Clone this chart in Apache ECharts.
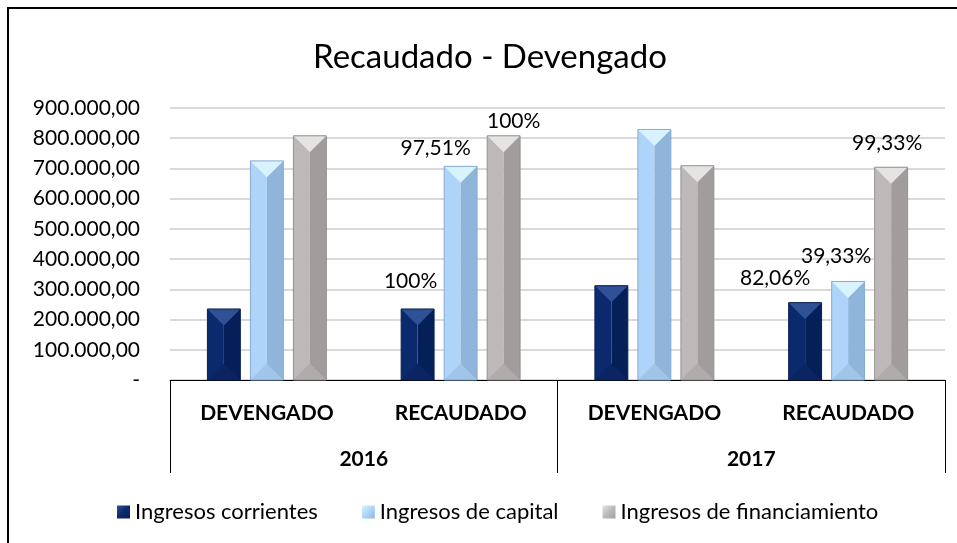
<!DOCTYPE html>
<html>
<head>
<meta charset="utf-8">
<script src="https://cdn.jsdelivr.net/npm/echarts@6/dist/echarts.min.js"></script>
<style>
  html, body { margin: 0; padding: 0; background: #fff; }
  #chart { width: 957px; height: 543px; }
</style>
</head>
<body>
<div id="chart"></div>
<script>
// ---- data ----
const titleText = 'Recaudado - Devengado';
const categories = ['DEVENGADO', 'RECAUDADO', 'DEVENGADO', 'RECAUDADO'];
const years = ['2016', '2017'];
const seriesNames = ['Ingresos corrientes', 'Ingresos de capital', 'Ingresos de financiamiento'];
const corrientes = [235000, 235000, 312000, 256000];
const capital = [725000, 707000, 829000, 326000];
const financiamiento = [808000, 808000, 709000, 704000];
const labelsCorrientes = ['', '100%', '', '82,06%'];
const labelsCapital = ['', '97,51%', '', '39,33%'];
const labelsFinanciamiento = ['', '100%', '', '99,33%'];
const yTicks = { min: 0, max: 900000, interval: 100000 };

// ---- styling (label nudges, colours) ----
const labelNudge = [
  [null, [-7, -28], null, [-30, -24]],
  [null, [-25, -18], null, [-12, -25]],
  [null, [10, -15], null, [-4, -24]]
];
const palettes = [
  { L: '#0b2a6d', R: '#051f59', T: '#2f5196', B: '#0a2562', S: '#0a1f55', M: '#0a2466' },
  { L: '#aed5f9', R: '#90b5db', T: '#d8f2fe', B: '#a0c5e8', S: '#86abd0', M: '#9cc3ea' },
  { L: '#bdb9b9', R: '#a19d9d', T: '#e6e3e3', B: '#b0acac', S: '#949090', M: '#b0acac' }
];
const FONT = 'Lato, "Noto Sans", sans-serif';

function fmtNum(v) {
  if (v === 0) return '-';
  const s = Math.round(v).toString().replace(/\B(?=(\d{3})+(?!\d))/g, '.');
  return s + ',00';
}

function makeRender(si, labels) {
  const p = palettes[si];
  return function (params, api) {
    const cat = api.value(0), val = api.value(1);
    const band = api.size([1, 0])[0];
    const bw = band * 0.17;
    const gap = band * 0.052;
    const top = api.coord([cat, val]);
    const base = api.coord([cat, 0]);
    const cx = top[0] + (si - 1) * (bw + gap);
    const x0 = cx - bw / 2, x1 = cx + bw / 2, yt = top[1], yb = base[1];
    const d = Math.min(bw / 2, (yb - yt) / 2);
    const children = [
      { type: 'polygon', shape: { points: [[x0, yt], [cx, yt], [cx, yb], [x0, yb]] }, style: { fill: p.L } },
      { type: 'polygon', shape: { points: [[cx, yt], [x1, yt], [x1, yb], [cx, yb]] }, style: { fill: p.R } },
      { type: 'polygon', shape: { points: [[x0, yb], [x1, yb], [cx, yb - d]] }, style: { fill: p.B } },
      { type: 'polygon', shape: { points: [[x0, yt], [x1, yt], [cx, yt + d]] }, style: { fill: p.T } },
      { type: 'rect', shape: { x: x0, y: yt, width: bw, height: yb - yt }, style: { fill: 'none', stroke: p.S, lineWidth: 1 } }
    ];
    const lab = labels[params.dataIndex];
    const nudge = labelNudge[si][params.dataIndex];
    if (lab && nudge) {
      children.push({
        type: 'text',
        style: {
          text: lab, x: cx + nudge[0], y: yt + nudge[1],
          align: 'center', verticalAlign: 'middle',
          font: '21px ' + FONT, fill: '#000'
        }
      });
    }
    return { type: 'group', children: children };
  };
}

const valueLists = [corrientes, capital, financiamiento];
const labelLists = [labelsCorrientes, labelsCapital, labelsFinanciamiento];

const series = seriesNames.map(function (name, si) {
  return {
    name: name,
    type: 'custom',
    xAxisIndex: 0,
    yAxisIndex: 0,
    encode: { x: 0, y: 1 },
    itemStyle: {
      color: new echarts.graphic.LinearGradient(0, 0, 1, 1, [
        { offset: 0, color: palettes[si].T },
        { offset: 0.5, color: palettes[si].L },
        { offset: 1, color: palettes[si].R }
      ])
    },
    renderItem: makeRender(si, labelLists[si]),
    data: valueLists[si].map(function (v, i) { return [i, v]; })
  };
});

const chart = echarts.init(document.getElementById('chart'), null, { renderer: 'canvas' });
chart.setOption({
  backgroundColor: '#ffffff',
  animation: false,
  textStyle: { fontFamily: FONT },
  title: {
    text: titleText,
    left: 485,
    textAlign: 'center',
    top: 36,
    textStyle: { fontFamily: FONT, fontSize: 33, fontWeight: 'normal', color: '#000' }
  },
  legend: {
    left: 112,
    top: 496,
    icon: 'rect',
    itemWidth: 13,
    itemHeight: 13,
    itemGap: 44,
    textStyle: { fontFamily: FONT, fontSize: 22, color: '#000' },
    data: seriesNames
  },
  grid: { left: 170, right: 12, top: 108, bottom: 163, containLabel: false },
  xAxis: [
    {
      type: 'category',
      data: categories,
      position: 'bottom',
      axisLine: { show: true, lineStyle: { color: '#000', width: 1 } },
      axisTick: { show: false },
      axisLabel: { interval: 0, margin: 23, fontFamily: FONT, fontSize: 21, fontWeight: 'bold', color: '#000' },
      splitLine: { show: false }
    },
    {
      type: 'category',
      data: years,
      position: 'bottom',
      boundaryGap: true,
      axisLine: { show: false },
      axisTick: { show: true, interval: 0, length: 93, lineStyle: { color: '#000', width: 1 } },
      axisLabel: { interval: 0, margin: 69, fontFamily: FONT, fontSize: 21, fontWeight: 'bold', color: '#000' },
      splitLine: { show: false }
    }
  ],
  yAxis: {
    type: 'value',
    min: yTicks.min,
    max: yTicks.max,
    interval: yTicks.interval,
    axisLine: { show: false },
    axisTick: { show: false },
    axisLabel: { margin: 30, fontFamily: FONT, fontSize: 21, color: '#000', formatter: fmtNum },
    splitLine: { show: true, lineStyle: { color: '#d9d9d9', width: 2 } }
  },
  graphic: [
    {
      type: 'rect',
      silent: true,
      z: 100,
      shape: { x: 8, y: 8, width: 1400, height: 1400 },
      style: { fill: 'none', stroke: '#000', lineWidth: 2 }
    }
  ],
  series: series
});
</script>
</body>
</html>
